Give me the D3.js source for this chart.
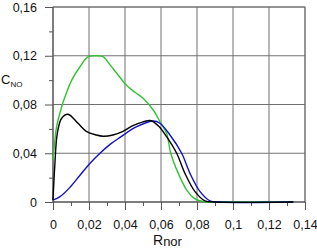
<!DOCTYPE html>
<html>
<head>
<meta charset="utf-8">
<script src="https://cdn.jsdelivr.net/npm/d3@7"></script>
<style>
  body { margin: 0; background: #fff; }
  svg { display: block; font-family: Arial, "Liberation Sans", sans-serif; }
</style>
</head>
<body>
<svg id="chart"></svg>
<script>
let width = 317
let height = 249
let margin = { left: 53, right: 12, top: 7, bottom: 47 }

// R_nor values and C_NO values for each curve
let greenR = [0, 0.001, 0.002, 0.0048, 0.0067, 0.0104, 0.015, 0.0196, 0.0243, 0.028, 0.0317, 0.0354, 0.041, 0.0455, 0.0502, 0.0557, 0.0594, 0.0631, 0.0654, 0.0696, 0.0743, 0.0785, 0.0817, 0.085, 0.09, 0.1335]
let greenC = [0.0345, 0.05, 0.0618, 0.078, 0.0865, 0.1, 0.111, 0.1192, 0.12, 0.119, 0.1125, 0.1056, 0.0955, 0.09, 0.085, 0.0755, 0.066, 0.0564, 0.04, 0.0235, 0.0098, 0.003, 0.001, 0, 0, 0]

let blackR = [0, 0.001, 0.0024, 0.0048, 0.0083, 0.0139, 0.0185, 0.0241, 0.0278, 0.0333, 0.0389, 0.0444, 0.05, 0.0545, 0.0585, 0.0631, 0.0687, 0.0733, 0.0789, 0.0844, 0.09, 0.1335]
let blackC = [0.0016, 0.03, 0.0564, 0.0687, 0.072, 0.0646, 0.058, 0.055, 0.054, 0.055, 0.058, 0.0626, 0.0658, 0.0667, 0.0625, 0.0536, 0.04, 0.0235, 0.0085, 0.001, 0, 0]

let blueR = [0, 0.0039, 0.0094, 0.015, 0.0206, 0.0261, 0.0317, 0.0372, 0.0465, 0.0557, 0.0594, 0.065, 0.0715, 0.0761, 0.0817, 0.0872, 0.092, 0.1335]
let blueC = [0.0016, 0.0044, 0.012, 0.022, 0.0318, 0.04, 0.0473, 0.053, 0.0618, 0.0665, 0.0646, 0.055, 0.04, 0.0235, 0.0085, 0.001, 0, 0]

let xTicks = [0, 0.02, 0.04, 0.06, 0.08, 0.1, 0.12, 0.14]
let xMinor = [0.01, 0.03, 0.05, 0.07, 0.09, 0.11, 0.13]
let yTicks = [0, 0.04, 0.08, 0.12, 0.16]
let yMinor = [0.02, 0.06, 0.1, 0.14]

let fmt = (d) => d === 0 ? "0" : String(+d.toFixed(2)).replace(".", ",")

let svg = d3.select("#chart").attr("width", width).attr("height", height)

let xScale = d3.scaleLinear().domain([0, 0.14]).range([margin.left, width - margin.right])
let yScale = d3.scaleLinear().domain([0, 0.16]).range([height - margin.bottom, margin.top])

let x0 = xScale(0), x1 = xScale(0.14), y0 = yScale(0), y1 = yScale(0.16)

// grid
svg.append("g")
  .selectAll("line")
  .data(xTicks.slice(1))
  .enter()
  .append("line")
  .attr("x1", (d) => xScale(d)).attr("x2", (d) => xScale(d))
  .attr("y1", y0).attr("y2", y1)
  .attr("stroke", "#707070").attr("stroke-width", 1)

svg.append("g")
  .selectAll("line")
  .data(yTicks.slice(1))
  .enter()
  .append("line")
  .attr("x1", x0).attr("x2", x1)
  .attr("y1", (d) => yScale(d)).attr("y2", (d) => yScale(d))
  .attr("stroke", "#707070").attr("stroke-width", 1)

// axes
let xAxis = d3.axisBottom(xScale).tickValues(xTicks).tickFormat(fmt).tickSize(8).tickPadding(10)
let xAxisMinor = d3.axisBottom(xScale).tickValues(xMinor).tickFormat("").tickSize(4)
let yAxis = d3.axisLeft(yScale).tickValues(yTicks).tickFormat(fmt).tickSize(8).tickPadding(8)
let yAxisMinor = d3.axisLeft(yScale).tickValues(yMinor).tickFormat("").tickSize(4)

let styleAxis = (g) => {
  g.select(".domain").remove()
  g.selectAll("line").attr("stroke", "#555")
  g.selectAll("text").attr("fill", "#111").style("font-size", "12.5px")
}

svg.append("g").attr("transform", "translate(0," + y0 + ")").call(xAxis).call(styleAxis)
svg.append("g").attr("transform", "translate(0," + y0 + ")").call(xAxisMinor).call(styleAxis)
svg.append("g").attr("transform", "translate(" + x0 + ",0)").call(yAxis).call(styleAxis)
svg.append("g").attr("transform", "translate(" + x0 + ",0)").call(yAxisMinor).call(styleAxis)

// frame
svg.append("rect")
  .attr("x", x0).attr("y", y1)
  .attr("width", x1 - x0).attr("height", y0 - y1)
  .attr("fill", "none").attr("stroke", "#707070")
svg.append("line").attr("x1", x0).attr("x2", x1).attr("y1", y0).attr("y2", y0).attr("stroke", "#444")
svg.append("line").attr("x1", x0).attr("x2", x0).attr("y1", y0).attr("y2", y1).attr("stroke", "#444")

// curves
let line = (rs, cs) => d3.line()
  .x((d, i) => xScale(rs[i]))
  .y((d) => Math.min(yScale(d), y0))
  .curve(d3.curveCatmullRom.alpha(0.5))(cs)

let curves = [
  { r: greenR, c: greenC, color: "#33c233" },
  { r: blueR, c: blueC, color: "#1010c8" },
  { r: blackR, c: blackC, color: "#000000" },
]

svg.append("g")
  .selectAll("path")
  .data(curves)
  .enter()
  .append("path")
  .attr("d", (d) => line(d.r, d.c))
  .attr("fill", "none")
  .attr("stroke", (d) => d.color)
  .attr("stroke-width", 1.4)

// axis titles
let yTitle = svg.append("text").attr("x", 1).attr("y", 84).attr("fill", "#111").style("font-size", "13px")
yTitle.append("tspan").text("C")
yTitle.append("tspan").attr("dy", 3).style("font-size", "8px").text("NO")

let xTitle = svg.append("text").attr("x", 153).attr("y", 245).attr("fill", "#111").style("font-size", "14px")
xTitle.append("tspan").text("R")
xTitle.append("tspan").attr("dy", 1).style("font-size", "13px").text("nor")
</script>
</body>
</html>
